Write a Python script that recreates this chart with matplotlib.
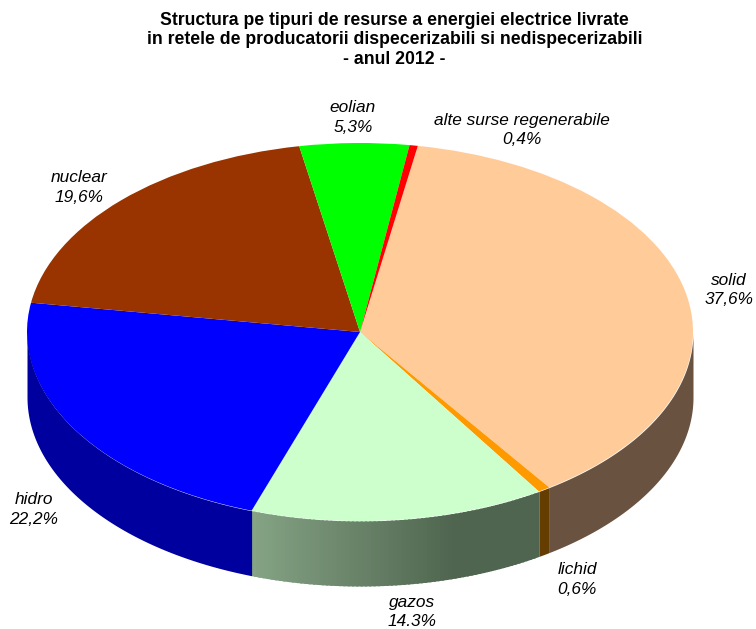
import numpy as np
import matplotlib
matplotlib.use("Agg")
import matplotlib.pyplot as plt
from matplotlib.colors import to_rgb

plt.rcParams["font.family"] = ["Liberation Sans", "DejaVu Sans"]

# data, clockwise starting with "solid"
names = ["solid", "lichid", "gazos", "hidro", "nuclear", "eolian", "alte surse regenerabile"]
values = [37.6, 0.6, 14.3, 22.2, 19.6, 5.3, 0.4]
value_labels = ["37,6%", "0,6%", "14.3%", "22,2%", "19,6%", "5,3%", "0,4%"]
top_colors = ["#FFCC99", "#FF9900", "#CCFFCC", "#0000FF", "#993300", "#00FF00", "#FF0000"]
wall_colors = ["#695240", "#663D00", "#4F654F", "#00009F", "#993300", "#00FF00", "#FF0000"]
title = ("Structura pe tipuri de resurse a energiei electrice livrate\n"
         "in retele de producatorii dispecerizabili si nedispecerizabili\n"
         "- anul 2012 -")

W, H = 756, 629
cx, cy, rx, ry = 360, 332, 333, 189
depth = 65 / ry

fig = plt.figure(figsize=(W / 100, H / 100), dpi=100)
ax = fig.add_axes([0, 0, 1, 1])

# the pie is squashed into an ellipse by the axis limits
ax.pie(values, colors=top_colors, startangle=80, counterclock=False, radius=1,
       wedgeprops={"linewidth": 0}, frame=True)
ax.set_aspect("auto")
ax.set_xlim(-cx / rx, (W - cx) / rx)
ax.set_ylim((cy - H) / ry, cy / ry)
ax.set_axis_off()

# side wall, only the front half shows
edges = 10 + np.cumsum([0] + values) * 3.6
light = np.array([133, 163, 133]) / 255
dark = np.array(to_rgb(wall_colors[2]))
for i, name in enumerate(names):
    a0, a1 = max(edges[i], 90), min(edges[i + 1], 270)
    if a1 <= a0:
        continue
    if name == "gazos":
        # gradient, lighter to the left
        steps = np.linspace(a0, a1, 70)
        for s0, s1 in zip(steps[:-1], steps[1:]):
            t = np.radians(np.linspace(s0, s1 + 0.4, 4))
            x = np.sin(t)
            f = np.clip((x.mean() - np.sin(np.radians(a1))) / 0.6, 0, 1)
            ax.fill_between(x, np.cos(t), np.cos(t) - depth,
                            color=light + (dark - light) * f, lw=0, zorder=1)
    else:
        t = np.radians(np.linspace(a0, a1, 150))
        ax.fill_between(np.sin(t), np.cos(t), np.cos(t) - depth,
                        color=wall_colors[i], lw=0, zorder=1)

# labels, centres in pixels
label_xy = [(729, 280), (577, 570), (412, 602), (34, 499), (79, 177), (353, 108), (522, 120)]
for name, val, (px, py) in zip(names, value_labels, label_xy):
    fig.text(px / W, 1 - py / H, name, ha="center", va="center", style="italic", fontsize=12.4)
    fig.text(px / W, 1 - (py + 20) / H, val, ha="center", va="center", style="italic", fontsize=12.4)

fig.text(394.5 / W, 1 - 40 / H, title, ha="center", va="center", fontweight="bold",
         fontsize=12.7, linespacing=1.2)

fig.savefig("out.png", dpi=100)
